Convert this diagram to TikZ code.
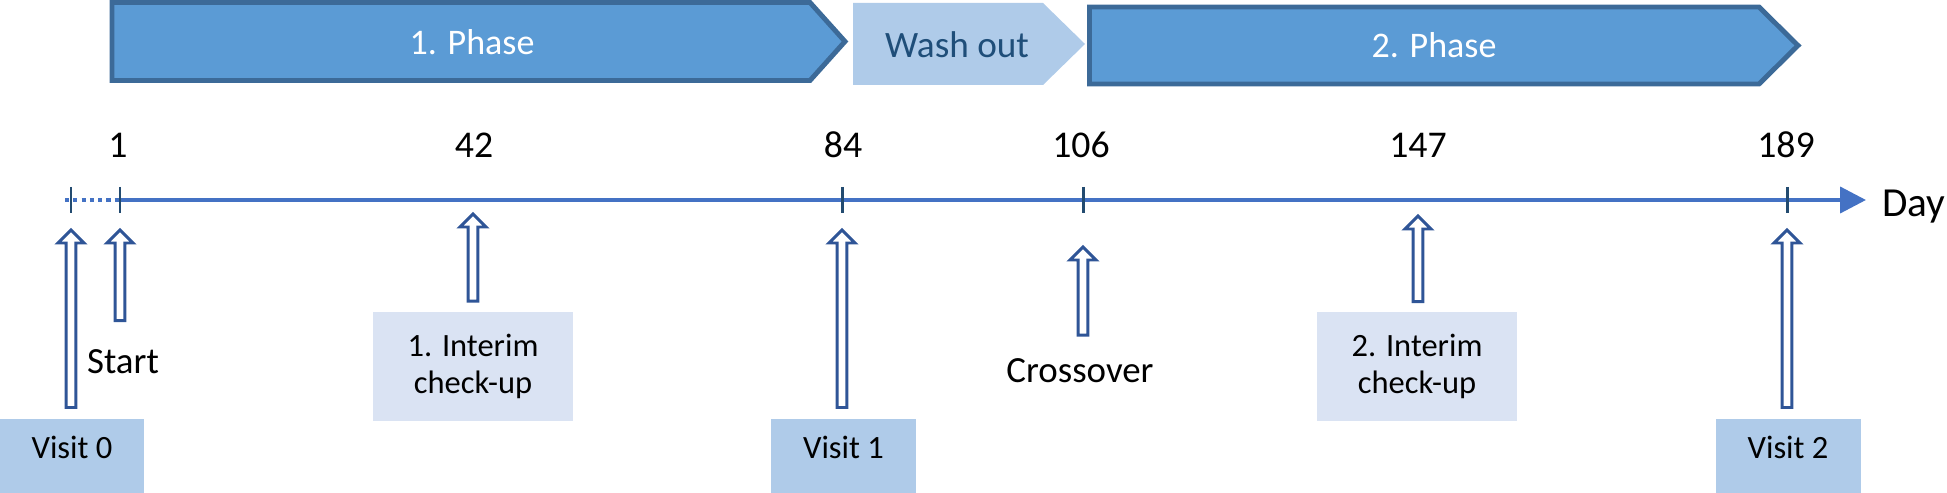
\documentclass[tikz,border=0pt]{standalone}
\usepackage{fontspec}
\setmainfont{Carlito}
\usepackage{tikz}
\usetikzlibrary{arrows.meta,calc}
\definecolor{phaseblue}{HTML}{5B9BD5}
\definecolor{phaseedge}{HTML}{3C6A98}
\definecolor{washfill}{HTML}{AFCBE9}
\definecolor{washtext}{HTML}{1F4E79}
\definecolor{axisblue}{HTML}{4472C4}
\definecolor{ticknavy}{HTML}{234B70}
\definecolor{arrownavy}{HTML}{2F5597}
\definecolor{interimfill}{HTML}{DAE3F3}

\begin{document}
\begin{tikzpicture}[x=0.02cm, y=-0.02cm,
  phase/.style={draw=phaseedge, fill=phaseblue, line width=2.8pt, line join=miter},
  phasetxt/.style={text=white, font=\fontsize{20.5}{24}\selectfont},
  daynum/.style={font=\fontsize{21.5}{26}\selectfont, anchor=base, inner sep=0pt},
  lbl/.style={font=\fontsize{21}{25}\selectfont, anchor=base, inner sep=0pt},
  tk/.style={ticknavy, line width=1.7pt},
  visitbox/.style={fill=washfill, font=\fontsize{18.5}{22}\selectfont, minimum width=2.9cm, inner ysep=11pt, text height=11pt, text depth=17pt, anchor=north},
  interimbox/.style={fill=interimfill, font=\fontsize{18.5}{21.5}\selectfont, align=center, minimum width=4cm, minimum height=2.18cm},
  upar/.style={draw=arrownavy, fill=white, line width=1.7pt, line join=miter,
    to path={let \p1=(\tikztostart), \p2=(\tikztotarget) in
      (\x2-2.8pt,\y1) -- (\x2-2.8pt,\y2-7.4pt) -- (\x2-7.4pt,\y2-7.4pt) -- (\x2,\y2)
      -- (\x2+7.4pt,\y2-7.4pt) -- (\x2+2.8pt,\y2-7.4pt) -- (\x2+2.8pt,\y1) -- cycle}},
]
\useasboundingbox (0,0) rectangle (1947,493);

% Phases (top row)
\draw[phase] (112,2.5) -- (810,2.5) -- (845,41.5) -- (810,80.5) -- (112,80.5) -- cycle;
\fill[washfill] (853,3) -- (1043,3) -- (1085,44) -- (1043,85) -- (853,85) -- cycle;
\draw[phase] (1089.5,7) -- (1759,7) -- (1798,45.5) -- (1759,84) -- (1089.5,84) -- cycle;
\node[phasetxt] (ph1) at (472,42) {1. Phase};
\node[font=\fontsize{21.2}{25}\selectfont, text=washtext] (wo) at (957,45) {Wash out};
\node[phasetxt] (ph2) at (1434,45) {2. Phase};

% Day axis
\coordinate (ax0) at (65,200);
\coordinate (axend) at (1866,200);
\foreach \d/\x in {0/71, 1/120, 42/473, 84/842, 106/1083, 147/1418, 189/1787}
  \coordinate (d\d) at (\x,200);
\draw[axisblue, line width=2.27pt, dash pattern=on 2.4pt off 2.3pt] (ax0) -- (d1);
\draw[axisblue, line width=2.27pt, -{Triangle[length=14.7pt,width=14.7pt]}] (d1) -- (axend);
\foreach \d in {0,1,84,106,189}
  \draw[tk] ($(d\d)+(0,-13)$) -- ($(d\d)+(0,13)$);
\node[font=\fontsize{23.5}{28}\selectfont, anchor=base west, inner sep=0pt] (day) at (1882,217) {Day};

% Day numbers
\foreach \d/\x in {1/118, 42/474, 84/843, 106/1081, 147/1418, 189/1786}
  \node[daynum] (n\d) at (\x,158) {\d};

% Visits and check-ups
\node[visitbox] (v0) at (72,419) {Visit 0};
\node[visitbox] (v1) at (843.5,419) {Visit 1};
\node[visitbox] (v2) at (1788,419) {Visit 2};
\node[interimbox] (ic1) at (473,366.5) {1. Interim\\check-up};
\node[interimbox] (ic2) at (1417,366.5) {2. Interim\\check-up};
\node[lbl] (st) at (123,373) {Start};
\node[lbl] (co) at (1080,382) {Crossover};

% Hollow arrows up to the axis
\draw[upar] ($(v0.north)+(0,-11.5)$) to ($(d0)+(0,30)$);
\draw[upar] ($(st.north)+(0,-28)$) to ($(d1)+(0,30)$);
\draw[upar] ($(ic1.north)+(0,-10.5)$) to ($(d42)+(0,14)$);
\draw[upar] ($(v1.north)+(0,-11.5)$) to ($(d84)+(0,30)$);
\draw[upar] ($(co.north)+(0,-22.5)$) to ($(d106)+(0,47)$);
\draw[upar] ($(ic2.north)+(0,-10)$) to ($(d147)+(0,16)$);
\draw[upar] ($(v2.north)+(0,-11.5)$) to ($(d189)+(0,30)$);
\end{tikzpicture}
\end{document}
